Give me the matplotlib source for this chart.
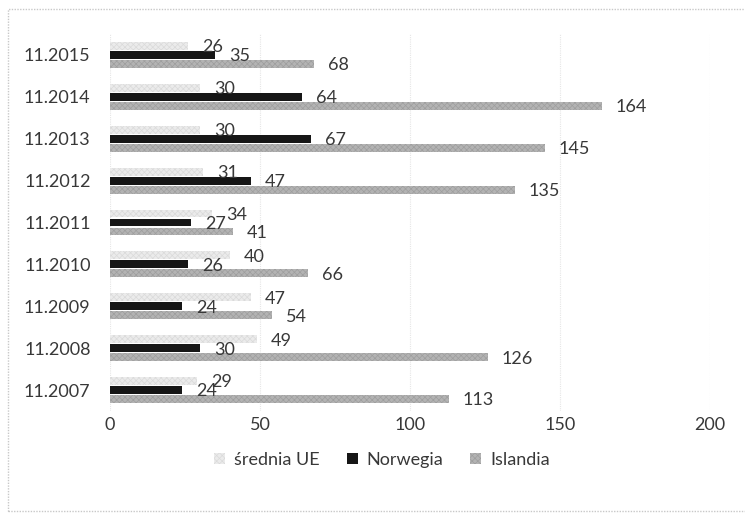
import matplotlib.pyplot as plt
import matplotlib.patches as mpatches
import numpy as np

plt.rcParams['font.family'] = ['Lato', 'DejaVu Sans']
plt.rcParams['hatch.linewidth'] = 0.5

# months, bottom to top
months = ["11.2007", "11.2008", "11.2009", "11.2010", "11.2011",
          "11.2012", "11.2013", "11.2014", "11.2015"]
srednia_ue = [29, 49, 47, 40, 34, 31, 30, 30, 26]
norwegia = [24, 30, 24, 26, 27, 47, 67, 64, 35]
islandia = [113, 126, 54, 66, 41, 135, 145, 164, 68]

series_names = ["średnia UE", "Norwegia", "Islandia"]
text_color = "#383838"

fig = plt.figure(figsize=(7.45, 5.13), dpi=100)
ax = fig.add_axes([110/745, 1 - 411/513, 600/745, 377/513])

y = np.arange(len(months))
h = 0.19
step = 0.215

styles = [
    dict(color="#ebebeb", edgecolor="#dadada", hatch="xxxxxx"),
    dict(color="#161616", edgecolor="#161616", hatch=None),
    dict(color="#b3b3b3", edgecolor="#9e9e9e", hatch="xxxxxx"),
]
values = [srednia_ue, norwegia, islandia]
offsets = [step, 0, -step]

for vals, off, st in zip(values, offsets, styles):
    bars = ax.barh(y + off, vals, height=h, color=st["color"],
                   edgecolor=st["edgecolor"], hatch=st["hatch"], linewidth=0,
                   zorder=3)
    for b, v in zip(bars, vals):
        ax.annotate(str(v), (v, b.get_y() + b.get_height() / 2),
                    xytext=(10, -1), textcoords="offset points",
                    ha="left", va="center", fontsize=13, color=text_color,
                    zorder=4)

ax.set_xlim(0, 200)
ax.set_ylim(-0.5, len(months) - 0.5)
ax.set_xticks([0, 50, 100, 150, 200])
ax.set_yticks(y)
ax.set_yticklabels(months)
ax.tick_params(axis="both", length=0, labelsize=13, labelcolor=text_color)
ax.tick_params(axis="y", pad=14)
ax.tick_params(axis="x", pad=4)
ax.grid(axis="x", color="#e6e6e6", linewidth=0.8, linestyle=(0, (1, 1)), zorder=0)
for s in ax.spines.values():
    s.set_visible(False)

handles = [mpatches.Patch(facecolor=st["color"], edgecolor=st["edgecolor"],
                          hatch=st["hatch"], linewidth=0, label=n)
           for st, n in zip(styles, series_names)]
fig.legend(handles=handles, loc="center", bbox_to_anchor=(382/745, 1 - 460/513),
           ncol=3, frameon=False, fontsize=13, handlelength=0.6,
           handleheight=0.6, handletextpad=0.5, columnspacing=1.5,
           labelcolor=text_color)

# outer chart frame
frame = mpatches.Rectangle((8/745, 2/513), 1.0, 1 - 11/513,
                           transform=fig.transFigure, fill=False,
                           edgecolor="#c8c8c8", linewidth=1.0,
                           linestyle=(0, (1, 1)), clip_on=False)
fig.patches.append(frame)

fig.savefig("out.png", dpi=100)
